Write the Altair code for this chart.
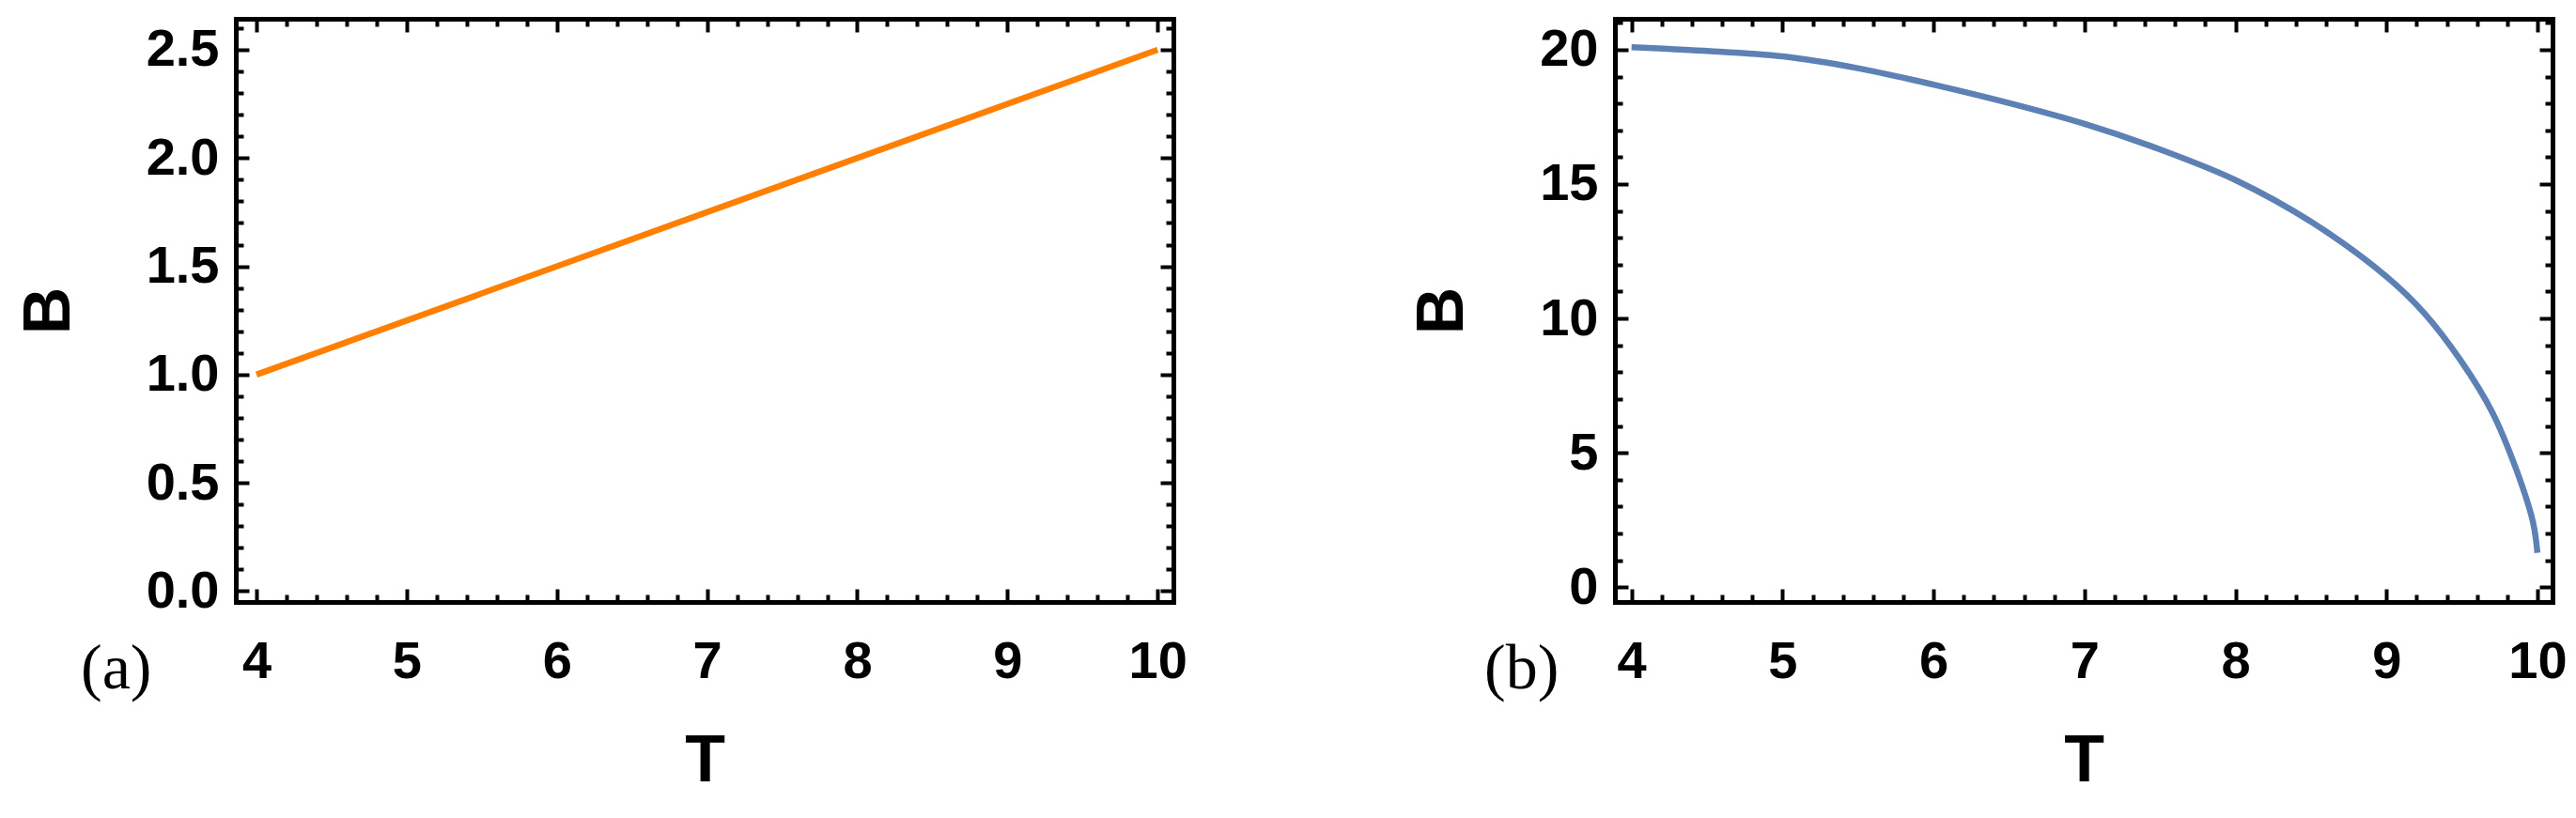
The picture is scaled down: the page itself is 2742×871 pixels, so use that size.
import altair as alt
import pandas as pd

# ---------------- data ----------------
# panel (a): straight line
t_a = [4.0, 10.0]
b_a = [1.0, 2.5]

# panel (b): decreasing curve
t_b = [4.0, 4.48, 5.0, 5.49, 6.0, 6.51, 7.0, 7.49, 8.0, 8.5, 9.0, 9.25, 9.49, 9.7, 9.86, 9.97, 10.0]
b_b = [20.09, 19.96, 19.75, 19.32, 18.70, 18.00, 17.24, 16.31, 15.15, 13.60, 11.56, 10.20, 8.45, 6.52, 4.38, 2.44, 1.28]

x_major = [4, 5, 6, 7, 8, 9, 10]
ya_major = [0.0, 0.5, 1.0, 1.5, 2.0, 2.5]
yb_major = [0, 5, 10, 15, 20]

x_minor = [round(4 + 0.2 * i, 2) for i in range(31) if i % 5 != 0]
ya_minor = [round(0.1 * i, 2) for i in range(27) if i % 5 != 0]
yb_minor = [i for i in range(22) if i % 5 != 0]

ORANGE = "#FF8000"
BLUE = "#5E81B5"
W, H = 998, 621
MAJ, MIN, TW = 14, 8, 4
FRAME_W = 5

LABEL_FONT = "Liberation Sans"
TITLE_FONT = "Liberation Sans"


def panel(df, color, xdom, ydom, ymaj, ymin, yfmt, tag, tag_dx, interp):
    base = alt.Chart(df)

    def X(axis):
        return alt.X("T:Q", scale=alt.Scale(domain=xdom, nice=False, zero=False), axis=axis)

    def Y(axis):
        return alt.Y("B:Q", scale=alt.Scale(domain=ydom, nice=False, zero=False), axis=axis)

    lab_common = dict(ticks=False, grid=False, domain=True, domainColor="black",
                      domainWidth=FRAME_W, domainCap="square",
                      labelFont=LABEL_FONT, labelFontWeight="bold", labelFontSize=56,
                      labelColor="black", titleFont=TITLE_FONT, titleFontWeight="bold",
                      titleFontSize=70, titleColor="black", labelFlush=False,
                      labelOverlap=False)
    xlab = alt.Axis(orient="bottom", values=x_major, format="d", labelPadding=36,
                    title="T", titlePadding=44, **lab_common)
    ylab = alt.Axis(orient="left", values=ymaj, format=yfmt, labelPadding=18,
                    title="B", titlePadding=67, **lab_common)

    def tick_axis(orient, vals, size):
        return alt.Axis(orient=orient, values=vals, ticks=True, tickSize=size, tickWidth=TW,
                        tickColor="black", labels=False, domain=False, grid=False,
                        title=None, offset=-size)

    def frame_axis(orient, vals):
        return alt.Axis(orient=orient, values=vals, ticks=False, labels=False, domain=True,
                        domainColor="black", domainWidth=FRAME_W, domainCap="square",
                        grid=False, title=None)

    line = base.mark_line(color=color, strokeWidth=6.5, interpolate=interp).encode(
        x=X(xlab), y=Y(ylab)
    )
    layers = [line]
    layers.append(base.mark_point(opacity=0).encode(
        x=X(frame_axis("top", x_major)), y=Y(frame_axis("right", ymaj))))
    for xo, yo in [("bottom", "left"), ("top", "right")]:
        for size, xv, yv in [(MAJ, x_major, ymaj), (MIN, x_minor, ymin)]:
            layers.append(
                base.mark_point(opacity=0).encode(
                    x=X(tick_axis(xo, xv, size)), y=Y(tick_axis(yo, yv, size))
                )
            )
    return alt.layer(*layers).resolve_axis(x="independent", y="independent").properties(
        width=W, height=H,
        title=alt.TitleParams(text=tag, orient="bottom", anchor="start", frame="group",
                              font="Liberation Serif", fontSize=68, fontWeight="normal",
                              color="black", dx=tag_dx, dy=-170),
    )


df_a = pd.DataFrame({"T": t_a, "B": b_a})
df_b = pd.DataFrame({"T": t_b, "B": b_b})

pa = panel(df_a, ORANGE, [3.862, 10.105], [-0.05, 2.643], ya_major, ya_minor, ".1f",
           "(a)", -165, "linear")
pb = panel(df_b, BLUE, [3.89, 10.1], [-0.55, 21.15], yb_major, yb_minor, "d",
           "(b)", -139, "catmull-rom")

chart = alt.hconcat(pa, pb, spacing=236).properties(
    padding={"left": 8, "top": 9, "right": 0, "bottom": 0}
).configure_view(stroke="transparent").configure(background="white")

chart.save("out.html", embed_options={"renderer": "svg", "actions": False})
